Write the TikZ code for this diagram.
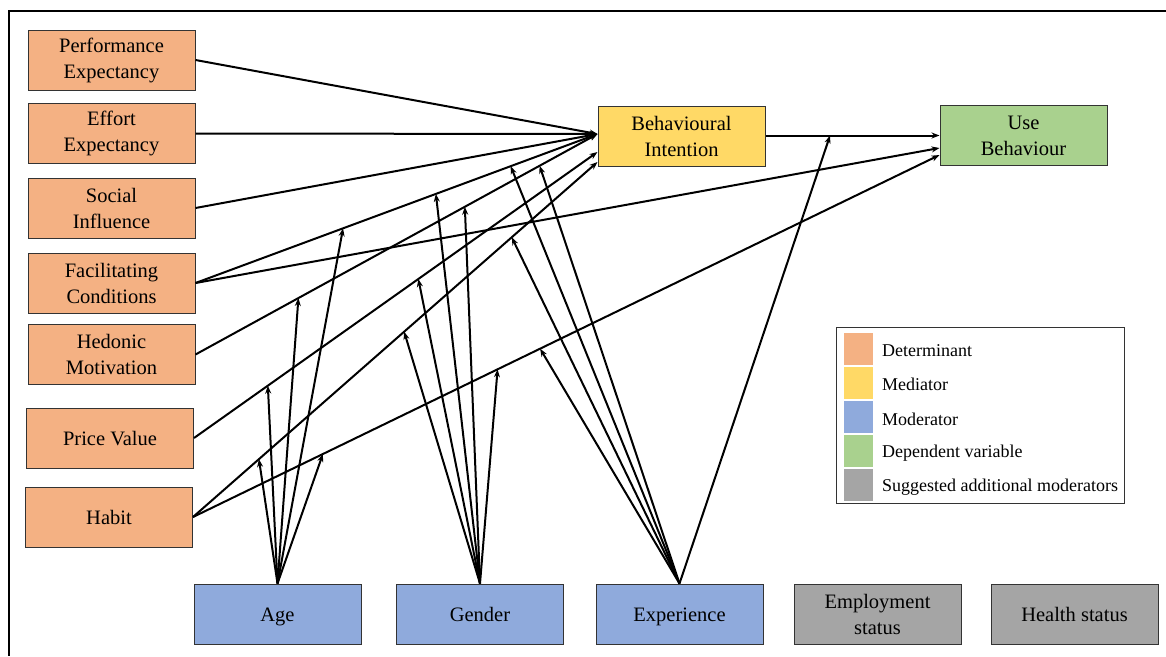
\documentclass[tikz,border=0pt]{standalone}
\usepackage{fontspec}
\setmainfont{Liberation Serif}
\newfontfamily\diagfont{Liberation Serif}
\usetikzlibrary{arrows.meta,calc}
\definecolor{detc}{HTML}{F4B183}
\definecolor{medc}{HTML}{FFD966}
\definecolor{modc}{HTML}{8FAADC}
\definecolor{depc}{HTML}{A9D18E}
\definecolor{sugc}{HTML}{A5A5A5}
\definecolor{boxline}{HTML}{333333}
\begin{document}
\begin{tikzpicture}[x=1pt,y=-1pt,
  box/.style={draw=boxline, line width=1pt, minimum width=167pt, minimum height=60pt,
    align=center, inner sep=0pt, font=\diagfont\fontsize{20.5}{26}\selectfont},
  oneline/.style={text height=14pt, text depth=0pt},
  detbox/.style={box, fill=detc},
  medbox/.style={box, fill=medc},
  modbox/.style={box, fill=modc},
  depbox/.style={box, fill=depc},
  sugbox/.style={box, fill=sugc},
  conn/.style={line width=2pt, -{Stealth[length=8pt,width=6pt]}},
  swatch/.style={minimum width=29pt, minimum height=32pt, inner sep=0pt},
  legtext/.style={anchor=west, inner sep=0pt, font=\diagfont\fontsize{18}{22}\selectfont}]
\useasboundingbox (0,0) rectangle (1166,656);
\fill[white] (0,0) rectangle (1166,656);
\draw[line width=1.5pt] (1166,11) -- (9,11) -- (9,656);

% determinants
\node[detbox] (pe) at (111.5,60) {Performance\\Expectancy};
\node[detbox] (ee) at (111.5,133.5) {Effort\\Expectancy};
\node[detbox] (si) at (111.5,208) {Social\\Influence};
\node[detbox] (fc) at (111.5,283) {Facilitating\\Conditions};
\node[detbox] (hm) at (111.5,354.5) {Hedonic\\Motivation};
\node[detbox, oneline] (pv) at (110,438) {Price Value};
\node[detbox, oneline] (hb) at (109,517) {Habit};
% mediator and dependent
\node[medbox] (bi) at (681.5,136) {Behavioural\\Intention};
\node[depbox] (ub) at (1023.5,135.5) {Use\\Behaviour};
% moderators
\node[modbox, oneline] (age) at (277.5,614) {Age};
\node[modbox, oneline] (gen) at (480,614) {Gender};
\node[modbox, oneline] (exp) at (679.5,614) {Experience};
\node[sugbox] (emp) at (877.5,614.5) {Employment\\status};
\node[sugbox, oneline] (hea) at (1074.5,614.5) {Health status};

% entry points
\coordinate (biA) at ($(bi.west)+(0,-2)$);
\coordinate (biB) at ($(bi.west)+(0,16)$);
\coordinate (biC) at ($(bi.west)+(0,26)$);
\coordinate (ubA) at (ub.west);
\coordinate (ubB) at ($(ub.west)+(0,12.5)$);
\coordinate (ubC) at ($(ub.west)+(0,19.5)$);

% main paths
\draw[conn] (pe.east) -- (biA);
\draw[conn] (ee.east) -- (biA);
\draw[conn] (si.east) -- (biA);
\draw[conn] (fc.east) -- coordinate[pos=0.367] (fcA) coordinate[pos=0.598] (fcG) coordinate[pos=0.784] (fcE) (biA);
\draw[conn] (hm.east) -- coordinate[pos=0.256] (hmA) coordinate[pos=0.670] (hmG) coordinate[pos=0.856] (hmE) (biA);
\draw[conn] (pv.east) -- coordinate[pos=0.183] (pvA) coordinate[pos=0.556] (pvG) (biB);
\draw[conn] (hb.east) -- coordinate[pos=0.163] (hbA) coordinate[pos=0.522] (hbG) coordinate[pos=0.788] (hbE) (biC);
\draw[conn] (fc.east) -- (ubB);
\draw[conn] (hb.east) -- coordinate[pos=0.174] (huA) coordinate[pos=0.408] (huG) coordinate[pos=0.465] (huE) (ubC);
\draw[conn] (bi.east |- ubA) -- coordinate[pos=0.371] (buE) (ubA);

% moderating arrows
\foreach \t in {fcA,hmA,pvA,hbA,huA} \draw[conn] (age.north) -- (\t);
\foreach \t in {fcG,hmG,pvG,hbG,huG} \draw[conn] (gen.north) -- (\t);
\foreach \t in {fcE,hmE,hbE,huE,buE} \draw[conn] (exp.north) -- (\t);

% legend
\node[draw=boxline, line width=1pt, minimum width=288pt, minimum height=176pt, inner sep=0pt] (leg) at (980,415) {};
\node[swatch, fill=detc] (s1) at (858.5,349) {};
\node[swatch, fill=medc] (s2) at (858.5,383) {};
\node[swatch, fill=modc] (s3) at (858.5,417) {};
\node[swatch, fill=depc] (s4) at (858.5,451) {};
\node[swatch, fill=sugc] (s5) at (858.5,485) {};
\node[legtext] (l1) at (882,351) {Determinant};
\node[legtext] (l2) at (882,384) {Mediator};
\node[legtext] (l3) at (882,419) {Moderator};
\node[legtext] (l4) at (882,453) {Dependent variable};
\node[legtext] (l5) at (882,487) {Suggested additional moderators};
\end{tikzpicture}
\end{document}
